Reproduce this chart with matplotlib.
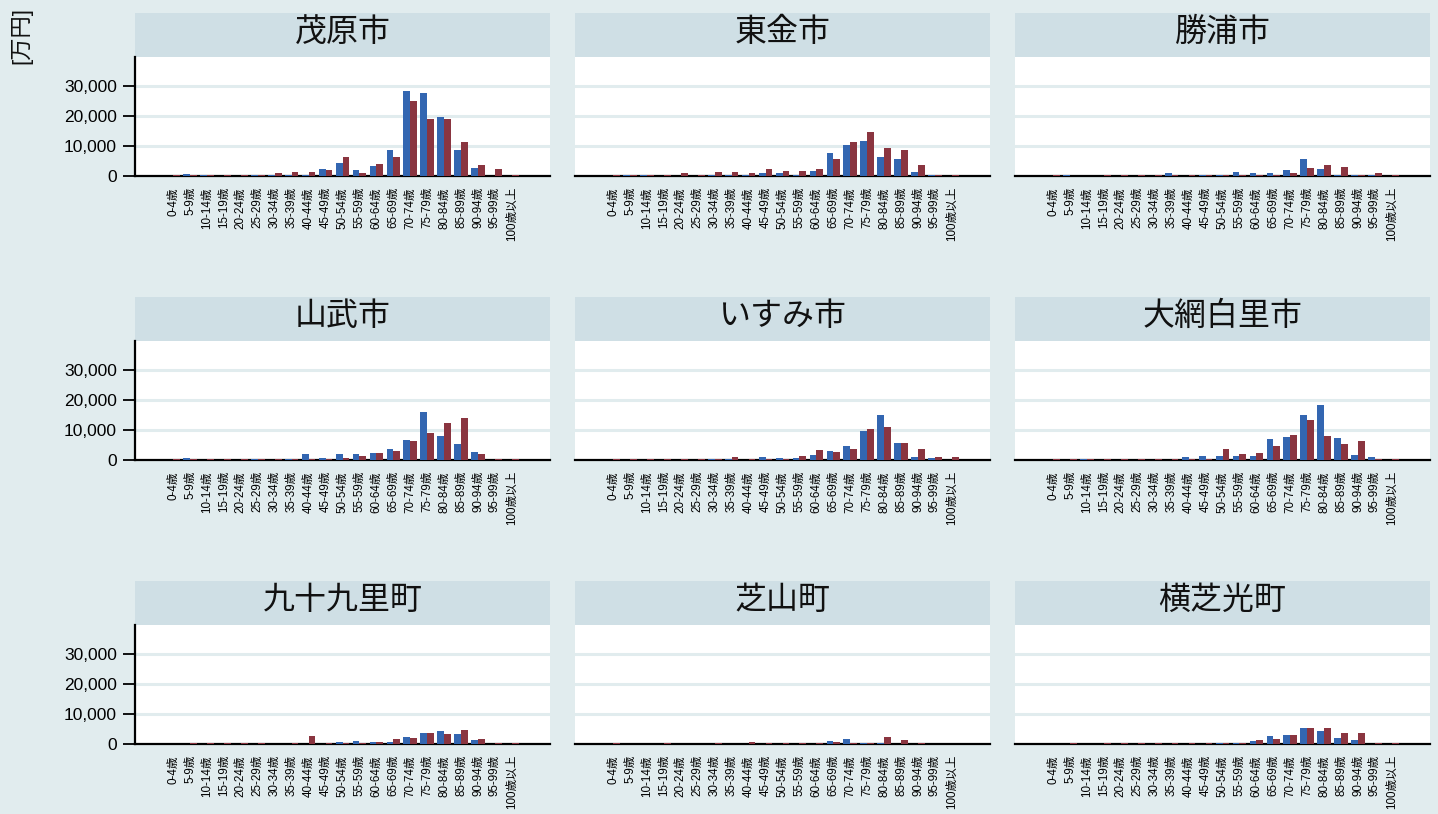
import matplotlib
matplotlib.use("Agg")
import matplotlib.pyplot as plt
import numpy as np

plt.rcParams['font.family'] = ['Liberation Sans', 'Noto Sans CJK JP', 'DejaVu Sans']

categories = ["0-4歳", "5-9歳", "10-14歳", "15-19歳", "20-24歳", "25-29歳", "30-34歳",
              "35-39歳", "40-44歳", "45-49歳", "50-54歳", "55-59歳", "60-64歳", "65-69歳",
              "70-74歳", "75-79歳", "80-84歳", "85-89歳", "90-94歳", "95-99歳", "100歳以上"]

cities = ["茂原市", "東金市", "勝浦市", "山武市", "いすみ市", "大網白里市",
          "九十九里町", "芝山町", "横芝光町"]

# blue series / red series for each city (unit: 万円)
mobara_blue = [0, 550, 500, 0, 0, 300, 200, 500, 500, 2200, 4500, 1900, 3200, 8600, 28200, 27600, 19600, 8600, 2600, 0, 0]
mobara_red = [300, 500, 500, 500, 500, 500, 900, 1200, 1200, 1900, 6500, 900, 3900, 6200, 24900, 18900, 18900, 11200, 3600, 2200, 500]
togane_blue = [0, 500, 200, 0, 0, 0, 200, 500, 500, 900, 900, 500, 1600, 7600, 10200, 11600, 6200, 5600, 1200, 300, 0]
togane_red = [500, 500, 500, 500, 900, 500, 1200, 1200, 900, 2200, 1600, 1600, 2200, 5600, 11200, 14600, 9200, 8600, 3600, 500, 500]
katsuura_blue = [0, 200, 0, 0, 0, 0, 0, 900, 0, 500, 200, 1200, 900, 900, 1900, 5600, 2200, 500, 300, 300, 0]
katsuura_red = [500, 0, 0, 500, 500, 500, 500, 500, 500, 500, 500, 500, 500, 500, 900, 2600, 3600, 2900, 500, 900, 500]
sammu_blue = [0, 700, 0, 0, 0, 300, 0, 300, 2000, 700, 2000, 2000, 2300, 3700, 6700, 16000, 8000, 5300, 2700, 0, 0]
sammu_red = [300, 400, 300, 300, 300, 300, 500, 300, 500, 500, 700, 1300, 2300, 3000, 6300, 9000, 12300, 14000, 2000, 300, 300]
isumi_blue = [0, 0, 0, 0, 0, 0, 300, 200, 0, 1000, 700, 700, 1700, 3000, 4700, 9700, 15000, 5700, 1000, 700, 0]
isumi_red = [300, 300, 300, 300, 300, 300, 400, 1000, 300, 400, 400, 1300, 3300, 2700, 3700, 10300, 11000, 5700, 3700, 1000, 1000]
oamishirasato_blue = [0, 0, 400, 0, 0, 0, 0, 0, 1000, 1500, 1300, 1300, 1300, 7000, 7700, 15000, 18300, 7300, 1700, 1000, 0]
oamishirasato_red = [300, 300, 300, 300, 300, 300, 300, 300, 400, 500, 3700, 2000, 2300, 4700, 8300, 13400, 8000, 5300, 6200, 400, 300]
kujukuri_blue = [100, 100, 100, 0, 0, 100, 100, 100, 100, 100, 800, 1100, 800, 800, 2500, 3800, 4500, 3500, 1500, 0, 0]
kujukuri_red = [0, 300, 300, 300, 300, 300, 0, 300, 2800, 400, 400, 400, 800, 1800, 2100, 3800, 3500, 4800, 1800, 300, 300]
shibayama_blue = [0, 100, 100, 0, 0, 0, 100, 0, 100, 0, 0, 100, 100, 1100, 1800, 400, 400, 100, 100, 0, 0]
shibayama_red = [300, 0, 0, 300, 0, 0, 300, 0, 800, 300, 300, 300, 500, 800, 400, 400, 2500, 1500, 400, 0, 0]
yokoshibahikari_blue = [0, 100, 100, 0, 0, 0, 0, 0, 0, 100, 200, 400, 1100, 2800, 3100, 5500, 4200, 2100, 1500, 0, 0]
yokoshibahikari_red = [0, 300, 0, 300, 300, 300, 300, 300, 300, 300, 400, 400, 1500, 1800, 3100, 5200, 5200, 3800, 3800, 300, 300]

blue_series = [mobara_blue, togane_blue, katsuura_blue, sammu_blue, isumi_blue,
               oamishirasato_blue, kujukuri_blue, shibayama_blue, yokoshibahikari_blue]
red_series = [mobara_red, togane_red, katsuura_red, sammu_red, isumi_red,
              oamishirasato_red, kujukuri_red, shibayama_red, yokoshibahikari_red]

y_ticks = [0, 10000, 20000, 30000]
y_tick_labels = ["0", "10,000", "20,000", "30,000"]

BG = "#e1ecee"
STRIP = "#cfdfe5"
GRID = "#e1ecee"
BLUE = "#3366b1"
RED = "#8a3540"

W, H = 1438, 814
fig = plt.figure(figsize=(W / 100, H / 100), dpi=100, facecolor=BG)

col_x = [135, 575, 1015]
panel_w = 415
row_strip_top = [13, 297, 581]
strip_h = 44
axes_h = 119

x = np.arange(len(categories))
bw = 0.4

for i, city in enumerate(cities):
    r, c = divmod(i, 3)
    left = col_x[c] / W
    strip_bottom = 1 - (row_strip_top[r] + strip_h) / H
    ax_bottom = strip_bottom - axes_h / H

    sax = fig.add_axes([left, strip_bottom, panel_w / W, strip_h / H])
    sax.set_facecolor(STRIP)
    sax.set_xticks([]); sax.set_yticks([])
    for s in sax.spines.values():
        s.set_visible(False)
    sax.text(0.5, 0.55, city, ha='center', va='center', fontsize=23,
             transform=sax.transAxes, color='#111111')

    ax = fig.add_axes([left, ax_bottom, panel_w / W, axes_h / H])
    ax.set_facecolor('white')
    ax.bar(x - bw / 2, blue_series[i], width=bw, color=BLUE, zorder=5)
    ax.bar(x + bw / 2, red_series[i], width=bw, color=RED, zorder=5)
    ax.set_xlim(-2.25, len(categories) - 1 + 2.25)
    ax.set_ylim(0, 39700)
    ax.set_yticks(y_ticks)
    for yt in y_ticks[1:]:
        ax.axhline(yt, color=GRID, lw=2.2, zorder=1)
    ax.set_xticks(x)
    ax.set_xticklabels(categories, rotation=90, fontsize=8.4)
    ax.tick_params(axis='x', length=0, pad=8)
    for s in ['top', 'right']:
        ax.spines[s].set_visible(False)
    ax.spines['bottom'].set_linewidth(1.6)
    ax.spines['bottom'].set_color('black')
    ax.spines['bottom'].set_zorder(4)
    if c == 0:
        ax.spines['left'].set_linewidth(1.6)
        ax.spines['left'].set_color('black')
        ax.set_yticklabels(y_tick_labels, fontsize=12.5)
        ax.tick_params(axis='y', length=9, width=1.3, pad=4, color='black')
    else:
        ax.spines['left'].set_visible(False)
        ax.tick_params(axis='y', length=0, labelleft=False)

fig.text(21 / W, 1 - 35 / H, "[万円]", rotation=90, ha='center', va='center',
         fontsize=16, color='#111111')

fig.savefig("out.png", dpi=100, facecolor=BG)
